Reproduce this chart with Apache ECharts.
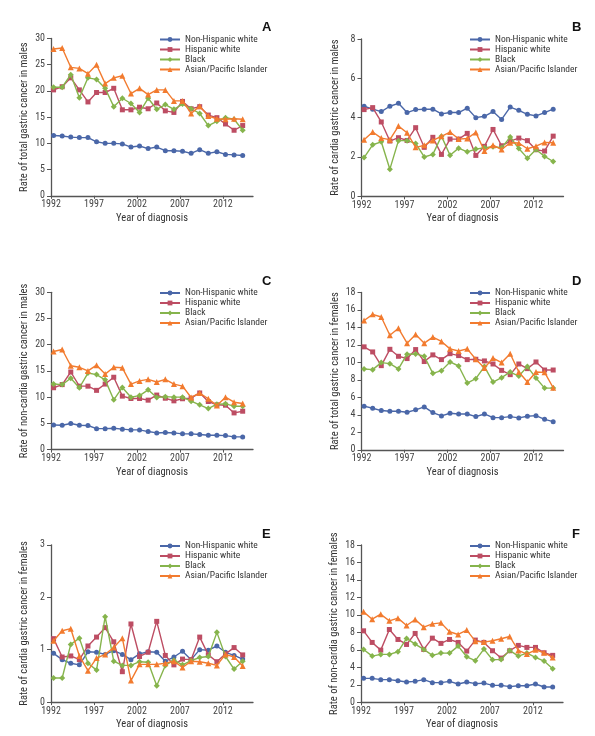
<!DOCTYPE html>
<html><head><meta charset="utf-8">
<script src="https://cdn.jsdelivr.net/npm/echarts@6/dist/echarts.min.js"></script>
<style>html,body{margin:0;padding:0;background:#fff}#c{width:595px;height:736px}</style>
</head><body><div id="c"></div>
<script>
const years = [1992,1993,1994,1995,1996,1997,1998,1999,2000,2001,2002,2003,2004,2005,2006,2007,2008,2009,2010,2011,2012,2013,2014];
const tickYears = [1992,1997,2002,2007,2012];
const seriesNames = ['Non-Hispanic white','Hispanic white','Black','Asian/Pacific Islander'];
const panelLetters = ['A','B','C','D','E','F'];
const yAxisNames = [
  'Rate of total gastric cancer in males',
  'Rate of cardia gastric cancer in males',
  'Rate of non-cardia gastric cancer in males',
  'Rate of total gastric cancer in females',
  'Rate of cardia gastric cancer in females',
  'Rate of non-cardia gastric cancer in females'
];
const yMaxes = [30, 8, 30, 18, 3, 18];
const ySteps = [5, 2, 5, 2, 1, 2];
const xAxisName = 'Year of diagnosis';

// A: total gastric, males
const A_nhw   = [11.5,11.4,11.2,11.1,11.1,10.3,10.0,10.0,9.9,9.3,9.5,9.0,9.3,8.6,8.6,8.5,8.1,8.8,8.1,8.4,7.9,7.8,7.7];
const A_hw    = [20.2,20.8,22.5,20.2,17.9,19.7,19.7,20.5,16.4,16.4,16.9,16.6,17.7,16.2,15.9,18.0,16.6,17.0,15.4,14.9,13.7,12.5,13.4];
const A_black = [20.7,20.7,23.1,18.7,22.5,22.2,20.5,17.0,18.6,17.6,15.9,18.6,16.5,17.4,16.5,17.5,16.6,15.7,13.4,14.2,14.9,14.6,12.5];
const A_api   = [28.0,28.2,24.5,24.3,23.3,25.0,21.4,22.5,22.9,19.5,20.5,19.3,20.2,20.2,18.1,18.1,15.7,17.1,15.2,14.7,14.6,14.7,14.6];
// B: cardia, males
const B_nhw   = [4.58,4.43,4.31,4.58,4.73,4.26,4.41,4.43,4.43,4.19,4.26,4.26,4.48,4.00,4.07,4.31,3.91,4.54,4.37,4.17,4.09,4.26,4.43];
const B_hw    = [4.41,4.51,3.78,2.81,2.98,2.84,3.49,2.49,3.00,2.13,2.91,2.91,3.20,2.08,2.54,3.40,2.57,2.81,2.96,2.83,2.37,2.30,3.06];
const B_black = [1.97,2.62,2.77,1.38,2.83,2.83,2.69,2.00,2.13,3.06,2.09,2.45,2.26,2.40,2.47,2.52,2.47,3.01,2.43,1.94,2.38,2.03,1.77];
const B_api   = [2.88,3.27,2.96,2.88,3.57,3.23,2.49,2.59,2.84,3.05,3.27,2.91,2.94,3.25,2.30,2.60,2.38,2.72,2.71,2.42,2.55,2.74,2.72];
// C: non-cardia, males
const C_nhw   = [4.70,4.65,4.97,4.65,4.60,4.00,4.00,4.08,3.90,3.76,3.76,3.44,3.18,3.25,3.18,3.00,3.00,2.87,2.74,2.74,2.67,2.42,2.42];
const C_hw    = [11.8,12.4,14.8,12.1,12.1,11.3,12.5,13.8,10.2,9.75,9.75,9.43,10.4,9.8,9.3,9.7,9.8,10.8,9.17,8.54,8.47,7.0,7.32];
const C_black = [12.5,12.4,13.6,11.8,14.6,14.3,13.3,9.5,11.85,10.0,10.3,11.4,9.94,10.1,10.0,10.0,9.24,8.54,7.83,8.66,8.73,8.28,8.28];
const C_api   = [18.7,19.1,16.0,15.7,15.0,16.1,14.4,15.7,15.6,12.5,13.1,13.4,12.9,13.4,12.5,12.1,9.94,10.8,9.7,8.4,10.0,9.04,8.8];
// D: total gastric, females
const D_nhw   = [4.99,4.76,4.49,4.41,4.41,4.30,4.57,4.91,4.26,3.88,4.18,4.10,4.10,3.80,4.10,3.68,3.68,3.80,3.65,3.84,3.91,3.49,3.22];
const D_hw    = [11.78,11.2,9.63,11.5,10.7,10.44,11.47,10.1,10.86,10.32,11.0,10.78,10.32,10.36,10.17,9.82,9.09,8.6,9.82,9.29,10.05,9.13,9.13];
const D_black = [9.25,9.17,9.98,9.86,9.25,10.94,10.97,10.7,8.75,9.06,10.05,9.59,7.64,8.14,9.52,7.75,8.25,8.9,8.44,9.52,8.21,7.06,7.06];
const D_api   = [14.8,15.5,15.2,13.1,13.9,12.2,13.2,12.2,12.9,12.4,11.55,11.3,11.55,10.36,9.36,10.5,9.98,11.0,8.9,7.75,8.9,8.86,7.1];
// E: cardia, females
const E_nhw   = [0.93,0.81,0.74,0.71,0.96,0.95,0.91,0.98,0.91,0.81,0.92,0.96,0.95,0.78,0.86,0.97,0.81,1.00,0.99,1.07,0.95,0.89,0.82];
const E_hw    = [1.21,0.86,0.88,0.81,1.07,1.24,1.42,1.15,0.58,1.49,0.87,0.95,1.54,0.89,0.71,0.82,0.81,1.24,0.90,0.77,0.92,1.04,0.90];
const E_black = [0.46,0.46,1.10,1.22,0.74,0.61,1.63,0.78,0.70,0.70,0.77,0.76,0.31,0.70,0.80,0.71,0.79,0.85,0.87,1.33,0.87,0.63,0.78];
const E_api   = [1.17,1.36,1.40,0.88,0.60,0.84,0.91,1.04,1.22,0.41,0.72,0.72,0.72,0.74,0.78,0.66,0.78,0.77,0.74,0.70,0.91,0.86,0.69];
// F: non-cardia, females
const F_nhw   = [2.74,2.74,2.59,2.59,2.47,2.32,2.40,2.59,2.25,2.25,2.40,2.09,2.32,2.13,2.20,1.94,1.94,1.79,1.90,1.90,2.09,1.75,1.75];
const F_hw    = [8.18,6.85,5.97,8.33,7.19,6.62,7.88,6.05,7.34,6.74,7.19,6.85,5.86,7.12,6.85,5.90,5.06,5.90,6.51,6.28,6.28,5.67,5.37];
const F_black = [6.05,5.29,5.48,5.48,5.78,7.31,6.66,6.05,5.37,5.63,5.63,6.43,5.21,4.76,6.09,4.87,4.91,5.94,5.29,5.63,5.14,4.72,3.84];
const F_api   = [10.35,9.51,10.08,9.32,9.63,8.79,9.47,8.60,8.98,9.09,8.07,7.76,8.26,7.00,6.89,7.04,7.27,7.53,5.94,5.52,6.01,5.67,5.14];

const panelData = [
  [A_nhw, A_hw, A_black, A_api],
  [B_nhw, B_hw, B_black, B_api],
  [C_nhw, C_hw, C_black, C_api],
  [D_nhw, D_hw, D_black, D_api],
  [E_nhw, E_hw, E_black, E_api],
  [F_nhw, F_hw, F_black, F_api]
];

// ---- styling / layout (not data) ----
const FONT = '"Roboto Condensed","DejaVu Sans Condensed",sans-serif';
const colors = ['#4a67a8', '#bd4d63', '#86b44c', '#f27b2f'];
const symbols = ['circle', 'rect', 'diamond', 'triangle'];
const symbolSizes = [5, 5, 6, 6];
const pointOffset = 0.3;
const layout = [
  {left: 51,    top: 38.5,  lx: 159, ly: 34.5, tx: 262, ty: 21},
  {left: 361.5, top: 39,    lx: 469, ly: 34.5, tx: 572, ty: 21},
  {left: 51,    top: 292.3, lx: 159, ly: 288,  tx: 262, ty: 274.5},
  {left: 361.5, top: 292.5, lx: 469, ly: 288,  tx: 572, ty: 274.5},
  {left: 51,    top: 544.8, lx: 159, ly: 541,  tx: 262, ty: 527.5},
  {left: 361,   top: 545,   lx: 469, ly: 541,  tx: 572, ty: 527.5}
];
const GW = 202, GH = 157.3;
const axisColor = '#555';

const grid = [], xAxis = [], yAxis = [], series = [], legend = [], title = [];
layout.forEach((L, i) => {
  grid.push({left: L.left, top: L.top, width: GW, height: GH, containLabel: false, outerBoundsMode: 'none'});
  xAxis.push({
    type: 'value', gridIndex: i, min: years[0], max: years[0] + 23.5,
    name: xAxisName, nameLocation: 'middle', nameGap: 17,
    nameTextStyle: {fontFamily: FONT, fontSize: 10.5, color: '#333'},
    axisLine: {show: true, lineStyle: {color: axisColor, width: 1.3}},
    axisTick: {show: true, length: 3, inside: false, customValues: tickYears, lineStyle: {color: axisColor}},
    axisLabel: {show: true, customValues: tickYears, margin: 4, fontFamily: FONT, fontSize: 10, color: '#444', formatter: v => String(v)},
    splitLine: {show: false}
  });
  yAxis.push({
    type: 'value', gridIndex: i, min: 0, max: yMaxes[i], interval: ySteps[i],
    name: yAxisNames[i], nameLocation: 'middle', nameGap: 21, nameRotate: 90,
    nameTextStyle: {fontFamily: FONT, fontSize: 10.5, color: '#333'},
    axisLine: {show: true, lineStyle: {color: axisColor, width: 1.3}},
    axisTick: {show: true, length: 4, inside: false, lineStyle: {color: axisColor}},
    axisLabel: {show: true, margin: 6, fontFamily: FONT, fontSize: 10, color: '#444'},
    splitLine: {show: false}
  });
  panelData[i].forEach((arr, k) => {
    series.push({
      name: seriesNames[k], type: 'line', xAxisIndex: i, yAxisIndex: i,
      data: years.map((y, j) => [y + pointOffset, arr[j]]),
      symbol: symbols[k], symbolSize: symbolSizes[k], showSymbol: true,
      lineStyle: {color: colors[k], width: 1.4},
      itemStyle: {color: colors[k]},
      z: 2 + k, animation: false
    });
  });
  legend.push({
    data: seriesNames, orient: 'vertical', left: L.lx, top: L.ly,
    itemGap: 0, itemWidth: 20, itemHeight: 6, padding: 0, selectedMode: false,
    textStyle: {fontFamily: FONT, fontSize: 9.5, color: '#333', lineHeight: 9.3}
  });
  title.push({
    text: panelLetters[i], left: L.tx, top: L.ty, padding: 0,
    textStyle: {fontFamily: '"Liberation Sans",Arial,sans-serif', fontSize: 13, fontWeight: 'bold', color: '#111'}
  });
});

const chart = echarts.init(document.getElementById('c'), null, {renderer: 'canvas'});
chart.setOption({animation: false, backgroundColor: '#fff', grid, xAxis, yAxis, series, legend, title});
</script>
</body></html>
